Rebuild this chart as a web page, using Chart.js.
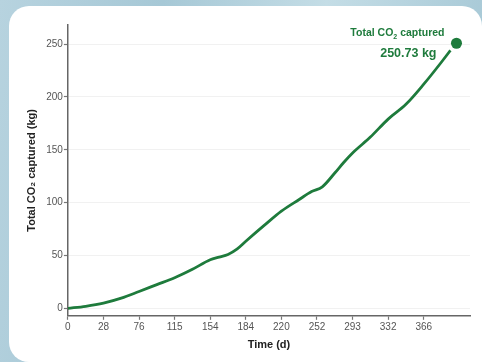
<!DOCTYPE html>
<html>
<head>
<meta charset="utf-8">
<script src="https://cdn.jsdelivr.net/npm/chart.js@4.4.1/dist/chart.umd.min.js"></script>
<style>
  html, body { margin: 0; padding: 0; }
  body {
    width: 482px; height: 362px; overflow: hidden; position: relative;
    background: linear-gradient(100deg, #b7d3df 0%, #a6c8d6 30%, #c4dde6 60%, #9fc3d2 100%);
  }
  #panel {
    position: absolute; left: 9px; top: 6px; width: 473px; height: 356px;
    background: #ffffff; border-radius: 20px 20px 0 20px;
  }
  #wrap { position: absolute; left: 0; top: 0; width: 482px; height: 362px; }
</style>
</head>
<body>
<div id="panel"></div>
<div id="wrap"><canvas id="co2Chart" width="482" height="362"></canvas></div>
<script>
// tick labels on the time axis (equally spaced on the original chart)
const tickLabels = ['0', '28', '76', '115', '154', '184', '220', '252', '293', '332', '366'];

// curve position along the axis, in tick steps
const curveX = [0, 0.5, 1, 1.5, 2, 2.5, 3, 3.5, 4, 4.25, 4.5, 4.75, 5, 5.5, 6, 6.5, 6.85, 7.15, 7.5, 7.75, 8, 8.5, 9, 9.5, 10, 10.5, 10.75];
// total CO2 captured (kg)
const curveY = [0, 2, 5, 9.7, 16, 22.5, 29, 37, 46, 48.5, 51, 56, 63.5, 78, 92, 103, 110.5, 115, 128, 138, 147, 162, 179, 193, 212, 233, 244];

const finalX = 10.92;
const finalValue = 250.73;

const green = '#1e7b3c';

const annotation = {
  id: 'annotation',
  afterDatasetsDraw(chart) {
    const { ctx, scales } = chart;
    const px = scales.x.getPixelForValue(finalX);
    const py = scales.y.getPixelForValue(finalValue);
    ctx.save();
    ctx.fillStyle = green;
    ctx.textBaseline = 'alphabetic';
    // "Total CO2 captured" with a subscript 2
    const right = px - 12;
    const base = py - 7;
    const big = 'bold 10.5px "Liberation Sans", Arial, sans-serif';
    const small = 'bold 7px "Liberation Sans", Arial, sans-serif';
    ctx.font = big;
    const w1 = ctx.measureText('Total CO').width;
    const w3 = ctx.measureText(' captured').width;
    ctx.font = small;
    const w2 = ctx.measureText('2').width;
    let x = right - (w1 + w2 + w3);
    ctx.font = big;
    ctx.fillText('Total CO', x, base);
    x += w1;
    ctx.font = small;
    ctx.fillText('2', x, base + 2.5);
    x += w2;
    ctx.font = big;
    ctx.fillText(' captured', x, base);
    // value
    ctx.font = 'bold 12.5px "Liberation Sans", Arial, sans-serif';
    ctx.textAlign = 'right';
    ctx.fillText(finalValue.toFixed(2) + ' kg', px - 20, py + 14);
    ctx.restore();
  }
};

new Chart(document.getElementById('co2Chart').getContext('2d'), {
  type: 'line',
  data: {
    datasets: [{
      data: curveX.map((x, i) => ({ x: x, y: curveY[i] })),
      borderColor: green,
      borderWidth: 2.8,
      pointRadius: 0,
      cubicInterpolationMode: 'monotone',
      fill: false
    }, {
      data: [{ x: finalX, y: finalValue }],
      pointRadius: 5.5,
      pointBackgroundColor: green,
      pointBorderWidth: 0,
      showLine: false
    }]
  },
  options: {
    responsive: false,
    animation: false,
    events: [],
    layout: { padding: { top: 25, right: 12, bottom: 10, left: 25 } },
    plugins: { legend: { display: false }, tooltip: { enabled: false } },
    scales: {
      x: {
        type: 'linear',
        min: 0,
        max: 11.3,
        afterBuildTicks(axis) {
          axis.ticks = tickLabels.map((t, i) => ({ value: i }));
        },
        ticks: {
          callback: (v) => tickLabels[v],
          color: '#555',
          font: { family: '"Liberation Sans", Arial, sans-serif', size: 10 },
          padding: 1,
          maxRotation: 0,
          autoSkip: false
        },
        grid: { drawOnChartArea: false, tickColor: '#777', tickLength: 4, tickWidth: 1.2 },
        border: { color: '#666', width: 1.5 },
        title: {
          display: true,
          text: 'Time (d)',
          color: '#222',
          font: { family: '"Liberation Sans", Arial, sans-serif', size: 11, weight: 'bold' },
          padding: { top: 5, bottom: 0 }
        }
      },
      y: {
        min: -7,
        max: 268,
        afterBuildTicks(axis) {
          axis.ticks = [0, 50, 100, 150, 200, 250].map(v => ({ value: v }));
        },
        ticks: {
          color: '#555',
          font: { family: '"Liberation Sans", Arial, sans-serif', size: 10 },
          padding: 1
        },
        grid: { color: '#f1f1f1', lineWidth: 1, tickColor: '#777', tickLength: 4, tickWidth: 1.2 },
        border: { color: '#666', width: 1.5 },
        title: {
          display: true,
          text: 'Total CO\u2082 captured (kg)',
          color: '#222',
          font: { family: '"Liberation Sans", Arial, sans-serif', size: 11, weight: 'bold' },
          padding: { top: 0, bottom: 7 }
        }
      }
    }
  },
  plugins: [annotation]
});
</script>
</body>
</html>
